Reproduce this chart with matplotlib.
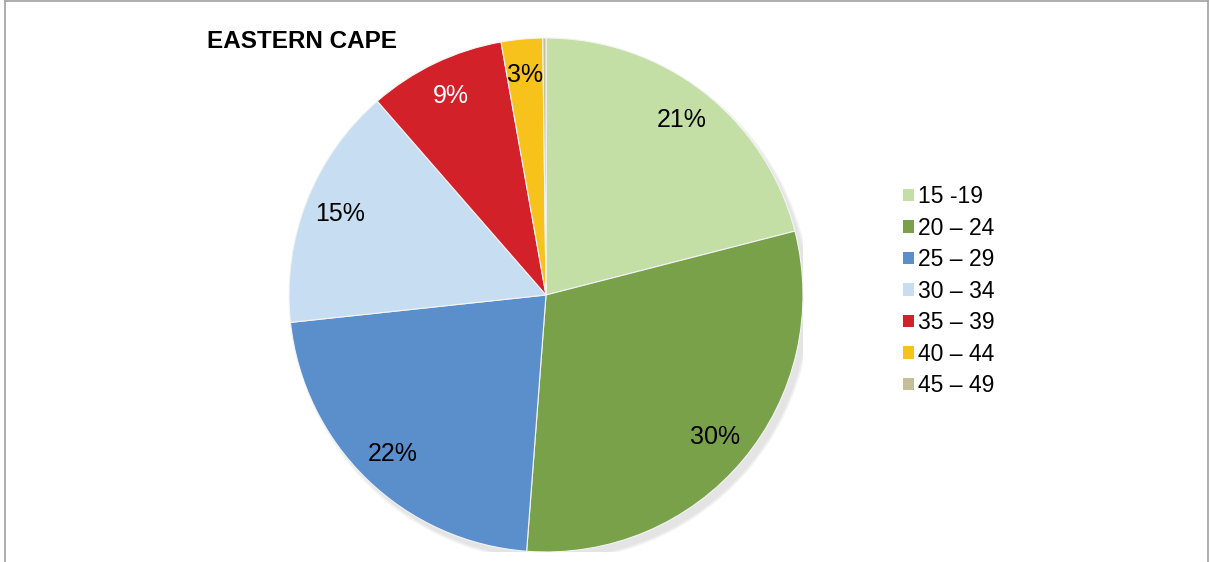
import numpy as np
import matplotlib.pyplot as plt
from matplotlib.patches import Patch, Ellipse
from matplotlib.lines import Line2D

plt.rcParams['font.family'] = ['Liberation Sans', 'DejaVu Sans']

age_groups = ['15 -19', '20 – 24', '25 – 29', '30 – 34', '35 – 39', '40 – 44', '45 – 49']
shares = [21.0, 30.2, 22.1, 15.3, 8.6, 2.6, 0.2]
colors = ['#C4DFA6', '#78A14A', '#5B8FCC', '#C7DDF1', '#D3212A', '#F8C21C', '#C5BF98']
label_colors = ['black', 'black', 'black', 'black', 'white', 'black', 'black']

fig = plt.figure(figsize=(12.1, 5.62), dpi=100)

# chart frame
fig.add_artist(Line2D([5 / 1210, 5 / 1210], [0, 561 / 562], color='#A0A0A0', lw=1.2))
fig.add_artist(Line2D([5 / 1210, 1208 / 1210], [561 / 562, 561 / 562], color='#A0A0A0', lw=1.2))
fig.add_artist(Line2D([1208 / 1210, 1208 / 1210], [0, 561 / 562], color='#A0A0A0', lw=1.2))

ax = fig.add_axes([289 / 1210, 10 / 562, 514 / 1210, 514 / 562])

# soft shadow under the pie
for i, a in enumerate([0.05, 0.05, 0.06]):
    ax.add_patch(Ellipse((0.02, -0.025), 2.0 + 0.01 * i, 2.0 + 0.01 * i,
                         color='#555555', alpha=a, lw=0, zorder=0))

wedges, _ = ax.pie(shares, colors=colors, startangle=90, counterclock=False,
                   radius=1.0, wedgeprops=dict(edgecolor='#F4F4F4', linewidth=0.8))
ax.set_xlim(-1.0, 1.0)
ax.set_ylim(-1.0, 1.0)
ax.set_aspect('equal')
ax.axis('off')

cum = 0
for w, v, tc in zip(wedges, shares, label_colors):
    mid = 90 - (cum + v / 2) * 3.6
    cum += v
    if v < 1:
        continue
    r = 0.86
    ax.text(r * np.cos(np.radians(mid)), r * np.sin(np.radians(mid)), f'{round(v)}%',
            ha='center', va='center', fontsize=18, color=tc)

fig.text(207 / 1210, 1 - 42 / 562, 'EASTERN CAPE', fontsize=17.5, fontweight='bold',
         ha='left', va='center')

handles = [Patch(facecolor=c, edgecolor='none') for c in colors]
fig.legend(handles, age_groups, loc='upper left', bbox_to_anchor=(885 / 1210, 1 - 167 / 562),
           frameon=False, fontsize=16.5, handlelength=0.45, handleheight=0.45,
           handletextpad=0.2, labelspacing=0.37, borderpad=0.3)

fig.savefig('out.png', dpi=100)
